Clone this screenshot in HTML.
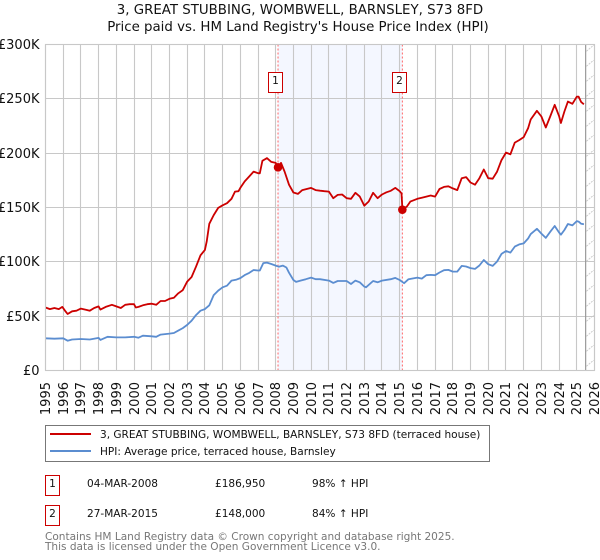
<!DOCTYPE html>
<html>
<head>
<meta charset="utf-8">
<title>3, GREAT STUBBING, WOMBWELL, BARNSLEY, S73 8FD</title>
<style>
html,body{margin:0;padding:0;background:#fff;}
svg{display:block;}
text{font-family:"DejaVu Sans","Liberation Sans",sans-serif;fill:#111;}
</style>
</head>
<body>
<svg id="chart" xmlns="http://www.w3.org/2000/svg" width="600" height="560" viewBox="0 0 600 560">
  <defs>
    <pattern id="hatch" patternUnits="userSpaceOnUse" width="18" height="15">
      <path d="M-1 16 L19 -1" stroke="#cccccc" stroke-width="1" stroke-dasharray="2 1" fill="none"/>
    </pattern>
  </defs>
  <rect x="0" y="0" width="600" height="560" fill="#fff"/>
  <text x="300" y="14" text-anchor="middle" font-size="13.35">3, GREAT STUBBING, WOMBWELL, BARNSLEY, S73 8FD</text>
  <text x="298" y="31" text-anchor="middle" font-size="13.35">Price paid vs. HM Land Registry's House Price Index (HPI)</text>
  <g id="plot"></g>

  <g>
    <rect x="45.5" y="425.5" width="444" height="36" fill="#fff" stroke="#777" stroke-width="1"/>
    <line x1="50" x2="91" y1="434" y2="434" stroke="#cc0000" stroke-width="2"/>
    <text x="100" y="438" font-size="10.54">3, GREAT STUBBING, WOMBWELL, BARNSLEY, S73 8FD (terraced house)</text>
    <line x1="50" x2="91" y1="451" y2="451" stroke="#5b8dd0" stroke-width="2"/>
    <text x="100" y="455" font-size="10.54">HPI: Average price, terraced house, Barnsley</text>
  </g>

  <g>
    <rect x="45.5" y="475.5" width="14" height="20" fill="#fff" stroke="#cc0000" stroke-width="1"/>
    <text x="52.5" y="487" text-anchor="middle" font-size="10.54">1</text>
    <text x="87" y="487" font-size="10.54">04-MAR-2008</text>
    <text x="215" y="487" font-size="10.54">£186,950</text>
    <text x="312" y="487" font-size="10.54">98% ↑ HPI</text>
    <rect x="45.5" y="505.5" width="14" height="20" fill="#fff" stroke="#cc0000" stroke-width="1"/>
    <text x="52.5" y="517" text-anchor="middle" font-size="10.54">2</text>
    <text x="87" y="517" font-size="10.54">27-MAR-2015</text>
    <text x="215" y="517" font-size="10.54">£148,000</text>
    <text x="312" y="517" font-size="10.54">84% ↑ HPI</text>
  </g>

  <text x="45" y="540" font-size="10.54" style="fill:#777">Contains HM Land Registry data © Crown copyright and database right 2025.</text>
  <text x="45" y="550" font-size="10.54" style="fill:#777">This data is licensed under the Open Government Licence v3.0.</text>
</svg>
<script>
const yTickValues = [0, 50, 100, 150, 200, 250, 300];
const yTickLabels = ['£0', '£50K', '£100K', '£150K', '£200K', '£250K', '£300K'];
const xTickYears = [1995,1996,1997,1998,1999,2000,2001,2002,2003,2004,2005,2006,2007,2008,2009,2010,2011,2012,2013,2014,2015,2016,2017,2018,2019,2020,2021,2022,2023,2024,2025,2026];

const priceYears = [1995,1995.25,1995.5,1995.75,1995.95,1996.1,1996.25,1996.5,1996.75,1997,1997.25,1997.5,1997.75,1998,1998.1,1998.4,1998.75,1999,1999.25,1999.5,1999.75,2000,2000.1,2000.25,2000.5,2000.75,2001,2001.25,2001.5,2001.75,2002,2002.25,2002.5,2002.75,2003,2003.25,2003.5,2003.75,2004,2004.1,2004.25,2004.5,2004.75,2005,2005.25,2005.5,2005.7,2005.9,2006,2006.25,2006.5,2006.75,2007,2007.1,2007.25,2007.5,2007.75,2008,2008.13,2008.3,2008.5,2008.75,2009,2009.25,2009.5,2009.75,2010,2010.25,2010.5,2010.75,2011,2011.25,2011.5,2011.75,2012,2012.25,2012.5,2012.75,2013,2013.25,2013.5,2013.75,2014,2014.25,2014.5,2014.75,2015,2015.1,2015.15,2015.4,2015.6,2016,2016.25,2016.5,2016.75,2017,2017.25,2017.5,2017.75,2018,2018.25,2018.5,2018.75,2019,2019.25,2019.5,2019.75,2020,2020.25,2020.5,2020.75,2021,2021.25,2021.5,2021.75,2022,2022.25,2022.4,2022.75,2023,2023.25,2023.5,2023.75,2024,2024.1,2024.3,2024.5,2024.75,2025,2025.1,2025.25,2025.4];
const priceValues = [58,56.5,57.5,56.5,58.5,55,52,54.5,55,57,56,55,57.5,59,56,58.5,60.5,59,57.5,60.5,61,61,58,58.5,60,61,61.5,60.5,64,64,66,67,71,74,81.8,86,95.5,106,111,118.6,135,143,149.6,152,154,158,164.6,165,168,174,178.5,183,181.6,181.5,193,195.5,192,191,186.95,191,183,171,163.8,162.5,166,167,168,166,165.5,165,164.6,158.6,161.6,162,158.6,158,163.5,160,151.7,155.5,163.5,158.6,162,164,165.4,168,165,163,148.4,150.8,155.4,158,159,160,161,160,167,169,169.5,167.6,166,177,178,173,171,177,185,177,176.5,183,193.6,200.5,199,209.7,212,214.8,223,231,239,233.7,223.6,233.7,244.5,234,227.8,238.3,247.5,245.4,252,252,247,245];

const hpiYears = [1995,1995.5,1996,1996.25,1996.5,1997,1997.5,1998,1998.1,1998.5,1999,1999.5,2000,2000.25,2000.5,2001,2001.25,2001.5,2002,2002.25,2002.5,2002.75,2003,2003.25,2003.5,2003.75,2004,2004.25,2004.5,2004.75,2005,2005.25,2005.5,2005.75,2006,2006.25,2006.5,2006.75,2007,2007.1,2007.3,2007.5,2007.75,2008,2008.17,2008.4,2008.6,2008.75,2009,2009.15,2009.4,2009.7,2010,2010.25,2010.5,2011,2011.25,2011.5,2011.75,2012,2012.25,2012.5,2012.75,2013,2013.1,2013.5,2013.75,2014,2014.5,2014.75,2015,2015.25,2015.5,2016,2016.25,2016.5,2016.75,2017,2017.25,2017.5,2017.75,2018,2018.25,2018.5,2018.75,2019,2019.25,2019.5,2019.75,2020,2020.25,2020.5,2020.75,2021,2021.25,2021.5,2021.75,2022,2022.25,2022.4,2022.75,2023,2023.25,2023.5,2023.75,2024,2024.1,2024.3,2024.5,2024.75,2025,2025.1,2025.25,2025.4];
const hpiValues = [29.6,29.3,29.6,27.4,28.5,29,28.5,30,28.2,31,30.5,30.5,31,30.2,32,31.5,31,33,34,34.5,36.7,39,42,45.8,51,55,56.5,60,69.4,73.5,76.6,78,82.7,83.5,85,87.8,89.8,92.5,92,92,98.8,99.3,98,96.5,95.5,96.5,94.8,90,83.3,81.5,82.7,84,85.5,84,84,82.7,80.6,82.4,82.4,82.4,79.6,82.7,81.2,77.2,76.6,82.4,81.2,82.7,84,85.2,83.3,80.3,84,85.5,84.6,87.7,88,87.7,90.2,92.3,92.6,91,91,96.3,95.7,94.2,93.5,96.6,101.7,97.8,96.3,100.3,107.3,110,108.5,114,116,117,121.5,125.5,130.4,126,122,127.6,133,127,125,129.3,134.8,133.5,137.5,137,135,134.5];

const saleYears = [2008.13, 2015.15];
const saleValues = [186.95, 148];
const saleLabels = ['1', '2'];
const lastDataYear = 2025.5;

const NS = 'http://www.w3.org/2000/svg';
const plot = document.getElementById('plot');
const left = 45.5, right = 594.5, top_ = 44.5, bottom = 370.5;
function xScale(year) { return left + (year - 1995) * (right - left) / 31; }
function yScale(v) { return bottom - v * (bottom - top_) / 300; }
function make(tag, attrs) {
  const el = document.createElementNS(NS, tag);
  for (const k in attrs) el.setAttribute(k, attrs[k]);
  return el;
}

const shade = make('rect', {x: xScale(saleYears[0]), y: top_, width: xScale(saleYears[1]) - xScale(saleYears[0]), height: bottom - top_, fill: '#f4f7ff'});


plot.appendChild(shade);

const hatch = make('rect', {x: xScale(lastDataYear), y: top_, width: right - xScale(lastDataYear), height: bottom - top_, fill: 'url(#hatch)'});


plot.appendChild(hatch);

xTickYears.forEach(function (yr) {
  const px = Math.round(xScale(yr) - 0.5) + 0.5;
  const g = make('line', {x1: px, x2: px, y1: top_, y2: bottom, stroke: '#c8c8c8', 'stroke-width': 1.1});
  
  
  plot.appendChild(g);
  const t = make('text', {transform: 'translate(' + (px + 4.5) + ',382) rotate(-90)', 'text-anchor': 'end', 'font-size': 13});
  
  
  t.textContent = String(yr);
  plot.appendChild(t);
});

yTickValues.forEach(function (v, i) {
  const py = Math.round(yScale(v) - 0.5) + 0.5;
  const g = make('line', {x1: left, x2: right, y1: py, y2: py, stroke: '#c8c8c8', 'stroke-width': 1.1});
  
  
  plot.appendChild(g);
  const t = make('text', {x: 39.5, y: py + 4.5, 'text-anchor': 'end', 'font-size': 13});
  
  
  t.textContent = yTickLabels[i];
  plot.appendChild(t);
});

const endLine = make('line', {x1: xScale(lastDataYear), x2: xScale(lastDataYear), y1: top_, y2: bottom, stroke: '#999999', 'stroke-width': 1.2});


plot.appendChild(endLine);

saleYears.forEach(function (yr) {
  const d = make('line', {x1: xScale(yr), x2: xScale(yr), y1: top_, y2: bottom, stroke: '#ff6666', 'stroke-width': 1, 'stroke-dasharray': '2 2'});
  
  
  plot.appendChild(d);
});

function pathFrom(xs, ys) {
  return xs.map(function (x, i) { return (i ? 'L' : 'M') + xScale(x).toFixed(1) + ' ' + yScale(ys[i]).toFixed(1); }).join(' ');
}

const hpiLine = make('path', {d: pathFrom(hpiYears, hpiValues), fill: 'none', stroke: '#5b8dd0', 'stroke-width': 1.8, 'stroke-linejoin': 'round'});


plot.appendChild(hpiLine);

const priceLine = make('path', {d: pathFrom(priceYears, priceValues), fill: 'none', stroke: '#cc0000', 'stroke-width': 1.8, 'stroke-linejoin': 'round'});


plot.appendChild(priceLine);

saleYears.forEach(function (yr, i) {
  const c = make('circle', {cx: xScale(yr), cy: yScale(saleValues[i]), r: 4.3, fill: '#cc0000'});
  
  
  plot.appendChild(c);
  const bx = Math.round(xScale(yr)) - 9.5;
  const b = make('rect', {x: bx, y: 72.5, width: 14, height: 20, fill: '#fff', stroke: '#cc0000', 'stroke-width': 1});
  
  
  plot.appendChild(b);
  const t = make('text', {x: bx + 7, y: 84, 'text-anchor': 'middle', 'font-size': 10.54});
  
  
  t.textContent = saleLabels[i];
  plot.appendChild(t);
});

const frame = make('rect', {x: left, y: top_, width: right - left, height: bottom - top_, fill: 'none', stroke: '#c8c8c8', 'stroke-width': 1.1});


plot.appendChild(frame);
</script>
</body>
</html>
